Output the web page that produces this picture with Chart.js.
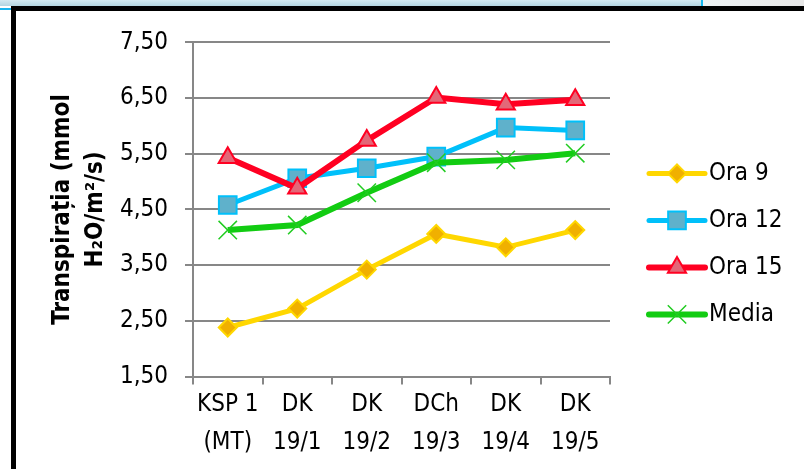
<!DOCTYPE html>
<html>
<head>
<meta charset="utf-8">
<script src="https://cdn.jsdelivr.net/npm/chart.js@4/dist/chart.umd.min.js"></script>
<style>
  html, body { margin: 0; padding: 0; width: 804px; height: 469px; overflow: hidden; background: #fff; }
  #band { position: absolute; left: 0; top: 0; width: 804px; height: 6px; background: linear-gradient(to bottom, #d3e9f1, #b3d5e1); }
  #bandRight { position: absolute; left: 703px; top: 0; width: 101px; height: 6px; background: linear-gradient(to right, #eef3f5, #e6e6e6); }
  #bandMark { position: absolute; left: 701px; top: 0; width: 2px; height: 6px; background: #14b8f0; }
  #edgeLine { position: absolute; left: 0; top: 8px; width: 11px; height: 2px; background: #19b5ee; }
  #frame { position: absolute; left: 11px; top: 6px; width: 900px; height: 600px; border-left: 5px solid #000; border-top: 5px solid #000; background: #fff; }
  #wrap { position: absolute; left: 16px; top: 11px; width: 788px; height: 458px; }
</style>
</head>
<body>
<div id="band"></div>
<div id="bandRight"></div>
<div id="bandMark"></div>
<div id="edgeLine"></div>
<div id="frame"></div>
<div id="wrap"><canvas id="chart" width="788" height="458"></canvas></div>
<script>
// Transpiration by genotype, measured at three hours of the day plus their mean
const categories = [['KSP 1', '(MT)'], ['DK', '19/1'], ['DK', '19/2'], ['DCh', '19/3'], ['DK', '19/4'], ['DK', '19/5']];
const ora9  = [2.38, 2.72, 3.42, 4.06, 3.82, 4.13];
const ora12 = [4.58, 5.06, 5.24, 5.45, 5.97, 5.92];
const ora15 = [5.43, 4.88, 5.74, 6.51, 6.39, 6.47];
const media = [4.13, 4.22, 4.80, 5.34, 5.39, 5.51];
const yTicks = [1.5, 2.5, 3.5, 4.5, 5.5, 6.5, 7.5];
const seriesNames = ['Ora 9', 'Ora 12', 'Ora 15', 'Media'];

const FONT = "'DejaVu Sans Condensed', 'DejaVu Sans', sans-serif";
const GRID = '#878787';

const styles = [
  { line: '#FFD700', fill: '#F0B000', edge: '#FFD700', point: 'rectRot', radius: 9, pw: 2, lw: 5 },
  { line: '#00C0FA', fill: '#5FB1CB', edge: '#00C0FA', point: 'rect', radius: 12.5, pw: 2, lw: 5 },
  { line: '#FF0022', fill: '#E36878', edge: '#FF0022', point: 'triangle', radius: 10.5, pw: 2, lw: 6 },
  { line: '#12CC12', fill: '#22CC22', edge: '#22CC22', point: 'crossRot', radius: 13, pw: 1.5, lw: 6 }
];
const values = [ora9, ora12, ora15, media];

const datasets = values.map((v, i) => ({
  label: seriesNames[i],
  data: v,
  borderColor: styles[i].line,
  borderWidth: styles[i].lw,
  tension: 0,
  fill: false,
  pointStyle: styles[i].point,
  pointRadius: styles[i].radius,
  pointBackgroundColor: styles[i].fill,
  pointBorderColor: styles[i].edge,
  pointBorderWidth: styles[i].pw,
  order: values.length - i
}));

function fmt(v) { return Number(v).toFixed(2).replace('.', ','); }

// Legend drawn as line sample + marker, like the series themselves
function marker(ctx, kind, x, y, r) {
  ctx.beginPath();
  if (kind === 'rectRot') {
    ctx.moveTo(x, y - r); ctx.lineTo(x + r, y); ctx.lineTo(x, y + r); ctx.lineTo(x - r, y); ctx.closePath();
    ctx.fill(); ctx.stroke();
  } else if (kind === 'rect') {
    const s = r * Math.SQRT1_2;
    ctx.rect(x - s, y - s, 2 * s, 2 * s); ctx.fill(); ctx.stroke();
  } else if (kind === 'triangle') {
    for (let k = 0; k < 3; k++) {
      const a = k * 2 * Math.PI / 3;
      const px = x + Math.sin(a) * r, py = y - Math.cos(a) * r;
      if (k === 0) ctx.moveTo(px, py); else ctx.lineTo(px, py);
    }
    ctx.closePath(); ctx.fill(); ctx.stroke();
  } else {
    const d = r * Math.SQRT1_2;
    ctx.moveTo(x - d, y - d); ctx.lineTo(x + d, y + d);
    ctx.moveTo(x + d, y - d); ctx.lineTo(x - d, y + d);
    ctx.stroke();
  }
}

const lineLegend = {
  id: 'lineLegend',
  afterDraw(chart) {
    const { ctx, chartArea } = chart;
    const x0 = chartArea.right + 39;
    const len = 56;
    const top = chartArea.top + 131;
    const step = 47;
    ctx.save();
    seriesNames.forEach((name, i) => {
      const s = styles[i];
      const y = top + i * step;
      ctx.strokeStyle = s.line;
      ctx.lineWidth = s.lw;
      ctx.lineCap = 'round';
      ctx.beginPath(); ctx.moveTo(x0, y); ctx.lineTo(x0 + len, y); ctx.stroke();
      ctx.lineCap = 'butt';
      ctx.fillStyle = s.fill;
      ctx.strokeStyle = s.edge;
      ctx.lineWidth = s.pw;
      marker(ctx, s.point, x0 + len / 2, y, s.radius);
      ctx.fillStyle = '#000';
      ctx.font = '24px ' + FONT;
      ctx.textBaseline = 'middle';
      ctx.textAlign = 'left';
      ctx.fillText(name, x0 + len + 4, y);
    });
    ctx.restore();
  }
};

new Chart(document.getElementById('chart'), {
  type: 'line',
  data: { labels: categories, datasets },
  options: {
    responsive: false,
    animation: false,
    devicePixelRatio: 1,
    layout: { padding: { top: 28, right: 194, bottom: 0, left: 0 } },
    plugins: { legend: { display: false }, tooltip: { enabled: false } },
    scales: {
      x: {
        offset: true,
        grid: { offset: true, drawOnChartArea: false, tickLength: 8, color: GRID, lineWidth: 2 },
        border: { color: GRID, width: 2 },
        ticks: { font: { family: FONT, size: 24, lineHeight: 1.55 }, color: '#000', padding: 2, maxRotation: 0, autoSkip: false },
        afterFit: s => { s.height = 92.5; }
      },
      y: {
        min: 1.5,
        max: 7.5,
        afterBuildTicks: s => { s.ticks = yTicks.map(v => ({ value: v })); },
        grid: { color: GRID, lineWidth: 2, tickLength: 8 },
        border: { color: GRID, width: 2 },
        ticks: { callback: v => fmt(v), font: { family: FONT, size: 24 }, color: '#000', padding: 17 },
        title: {
          display: true,
          text: ['Transpirația (mmol', 'H₂O/m²/s)'],
          font: { family: FONT, size: 24, weight: 'bold', lineHeight: 1.35 },
          color: '#000',
          padding: { top: 31, bottom: 0 }
        },
        afterFit: s => { s.width = 177; }
      }
    }
  },
  plugins: [lineLegend]
});
</script>
</body>
</html>
